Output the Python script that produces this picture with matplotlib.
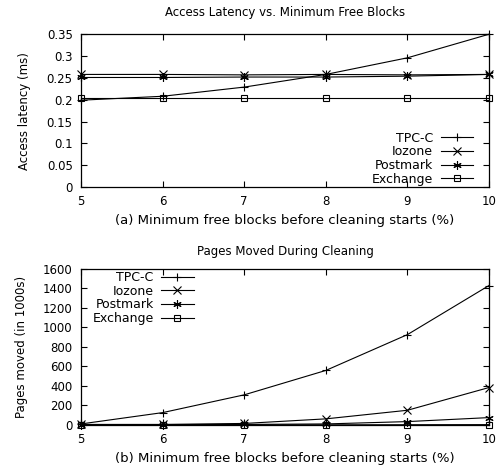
import matplotlib
matplotlib.use('Agg')
import matplotlib.pyplot as plt

plt.rcParams['font.family'] = ['DejaVu Sans']

x = [5, 6, 7, 8, 9, 10]
names = ['TPC-C', 'Iozone', 'Postmark', 'Exchange']
markers = ['+', 'x', (6, 2, 0), 's']
msizes = [6, 5.5, 6, 4]

# (a) access latency (ms)
lat_tpcc = [0.199, 0.208, 0.229, 0.258, 0.296, 0.350]
lat_iozone = [0.258, 0.258, 0.257, 0.258, 0.257, 0.258]
lat_postmark = [0.251, 0.251, 0.252, 0.252, 0.254, 0.258]
lat_exchange = [0.203, 0.203, 0.203, 0.203, 0.203, 0.203]

# (b) pages moved (in 1000s)
pm_tpcc = [10, 126, 308, 558, 925, 1428]
pm_iozone = [5, 5, 15, 62, 150, 383]
pm_postmark = [3, 3, 5, 10, 34, 75]
pm_exchange = [1, 1, 1, 1, 2, 3]

fig = plt.figure(figsize=(5, 4.69), dpi=100)
ax1 = fig.add_axes([0.162, 0.601, 0.816, 0.326])
ax2 = fig.add_axes([0.162, 0.094, 0.816, 0.333])

def style(ax):
    ax.tick_params(direction='in', top=True, right=True, length=4, width=0.8, labelsize=8.5)
    ax.tick_params(axis='y', pad=6)
    ax.tick_params(axis='x', pad=6)
    for s in ax.spines.values():
        s.set_linewidth(0.9)
    ax.set_xlim(5, 10)
    ax.set_xticks(x)

for i, ys in enumerate([lat_tpcc, lat_iozone, lat_postmark, lat_exchange]):
    ax1.plot(x, ys, color='black', lw=0.8, marker=markers[i], ms=msizes[i],
             mfc='none', mew=0.8, label=names[i], clip_on=False)
style(ax1)
ax1.set_ylim(0, 0.35)
ax1.set_yticks([0, 0.05, 0.1, 0.15, 0.2, 0.25, 0.3, 0.35])
ax1.set_yticklabels(['0', '0.05', '0.1', '0.15', '0.2', '0.25', '0.3', '0.35'])
ax1.set_ylabel('Access latency (ms)', fontsize=8.5, labelpad=11)
ax1.set_xlabel('(a) Minimum free blocks before cleaning starts (%)', fontsize=9.5, labelpad=4)
ax1.set_title('Access Latency vs. Minimum Free Blocks', fontsize=8.5, pad=13)
ax1.legend(loc='lower right', bbox_to_anchor=(0.961, 0.01), frameon=False, markerfirst=False,
           fontsize=9, handlelength=2.6, labelspacing=0.05, borderaxespad=0, borderpad=0,
           handletextpad=0.6)

for i, ys in enumerate([pm_tpcc, pm_iozone, pm_postmark, pm_exchange]):
    ax2.plot(x, ys, color='black', lw=0.8, marker=markers[i], ms=msizes[i],
             mfc='none', mew=0.8, label=names[i], clip_on=False)
style(ax2)
ax2.set_ylim(0, 1600)
ax2.set_yticks(range(0, 1601, 200))
ax2.set_ylabel('Pages moved (in 1000s)', fontsize=8.5, labelpad=11)
ax2.set_xlabel('(b) Minimum free blocks before cleaning starts (%)', fontsize=9.5, labelpad=4)
ax2.set_title('Pages Moved During Cleaning', fontsize=8.5, pad=10)
ax2.legend(loc='upper right', bbox_to_anchor=(0.276, 0.985), frameon=False, markerfirst=False,
           fontsize=9, handlelength=2.6, labelspacing=0.05, borderaxespad=0, borderpad=0,
           handletextpad=0.6)

fig.savefig('out.png', dpi=100)
